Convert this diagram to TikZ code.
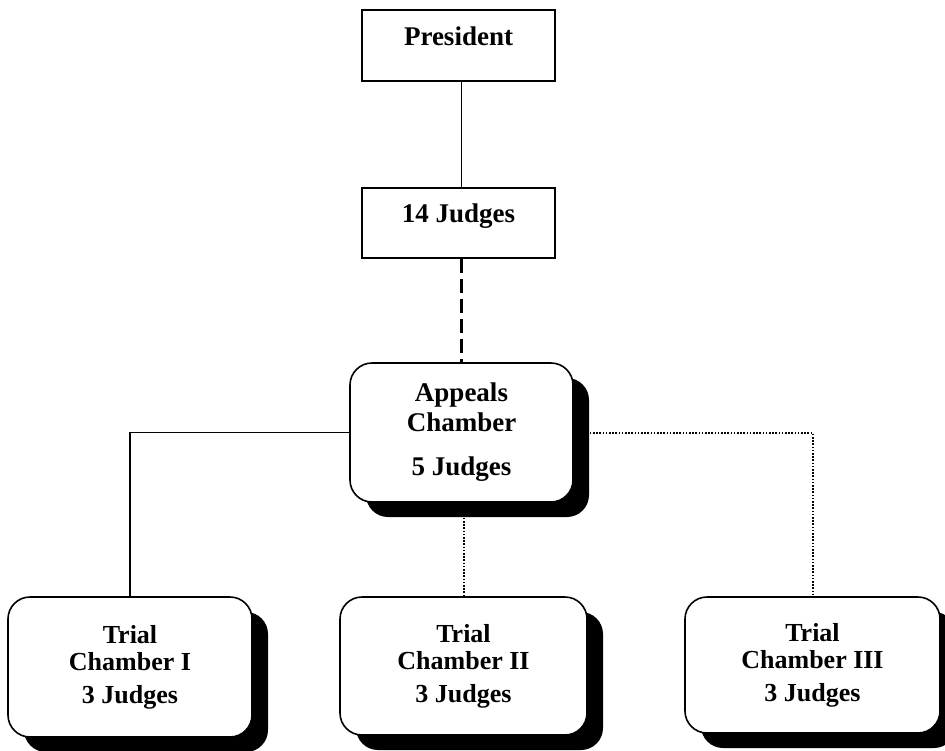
\documentclass[tikz,border=0pt]{standalone}
\usepackage{fontspec}
\setmainfont{Liberation Serif}
\usepackage{tikz}
\usetikzlibrary{shadows, backgrounds, calc}

\tikzset{
	plainbox/.style={draw, line width=1.6pt, fill=white, inner sep=0pt, font=\bfseries\fontsize{27}{27}\selectfont},
	chamberbox/.style={draw, line width=1.6pt, fill=white, rounded corners=22pt, align=center, inner sep=0pt,
		font=\bfseries\fontsize{26}{27}\selectfont,
		drop shadow={shadow xshift=16pt, shadow yshift=-15pt, fill=black, opacity=1}},
	link/.style={line width=1.6pt},
	dashlink/.style={line width=2.4pt, dash pattern=on 14pt off 6pt},
	dotlink/.style={line width=2pt, dash pattern=on 1.6pt off 1.6pt}
}

\begin{document}
\begin{tikzpicture}[x=1pt, y=-1pt]
		% page frame
		\useasboundingbox (0,0) rectangle (945,750);
		% top of the tribunal
		\node[plainbox, minimum width=193pt, text height=35pt, text depth=36pt] (pres) at (458.5,45.5) {President};
		\node[plainbox, minimum width=193pt, text height=34pt, text depth=36pt] (judges) at (458.5,223) {14 Judges};
		% chambers
		\node[chamberbox, minimum width=223pt, minimum height=139pt, font=\bfseries\fontsize{27}{30}\selectfont] (app) at (461.5,432.5) {Appeals\\Chamber\\[14pt]5 Judges};
		\node[chamberbox, minimum width=244pt, minimum height=140pt] (trone) at (130,667) {Trial\\Chamber I\\[6pt]3 Judges};
		\node[chamberbox, minimum width=247pt, minimum height=138pt] (trtwo) at (463.5,666) {Trial\\Chamber II\\[6pt]3 Judges};
		\node[chamberbox, minimum width=255pt, minimum height=136pt] (trthree) at (812.5,665) {Trial\\Chamber III\\[6pt]3 Judges};
		% connectors
		\begin{scope}[on background layer]
			\draw[link] (pres.south -| app.north) -- (judges.north -| app.north);
			\draw[dashlink] (judges.south -| app.north) -- (app.north);
			\draw[link] (app.west) -| (trone.north);
			\draw[dotlink] (trtwo.north) -- (trtwo.north |- app.south);
			\draw[dotlink] (app.east) -| (trthree.north);
		\end{scope}
	\end{tikzpicture}
\end{document}
